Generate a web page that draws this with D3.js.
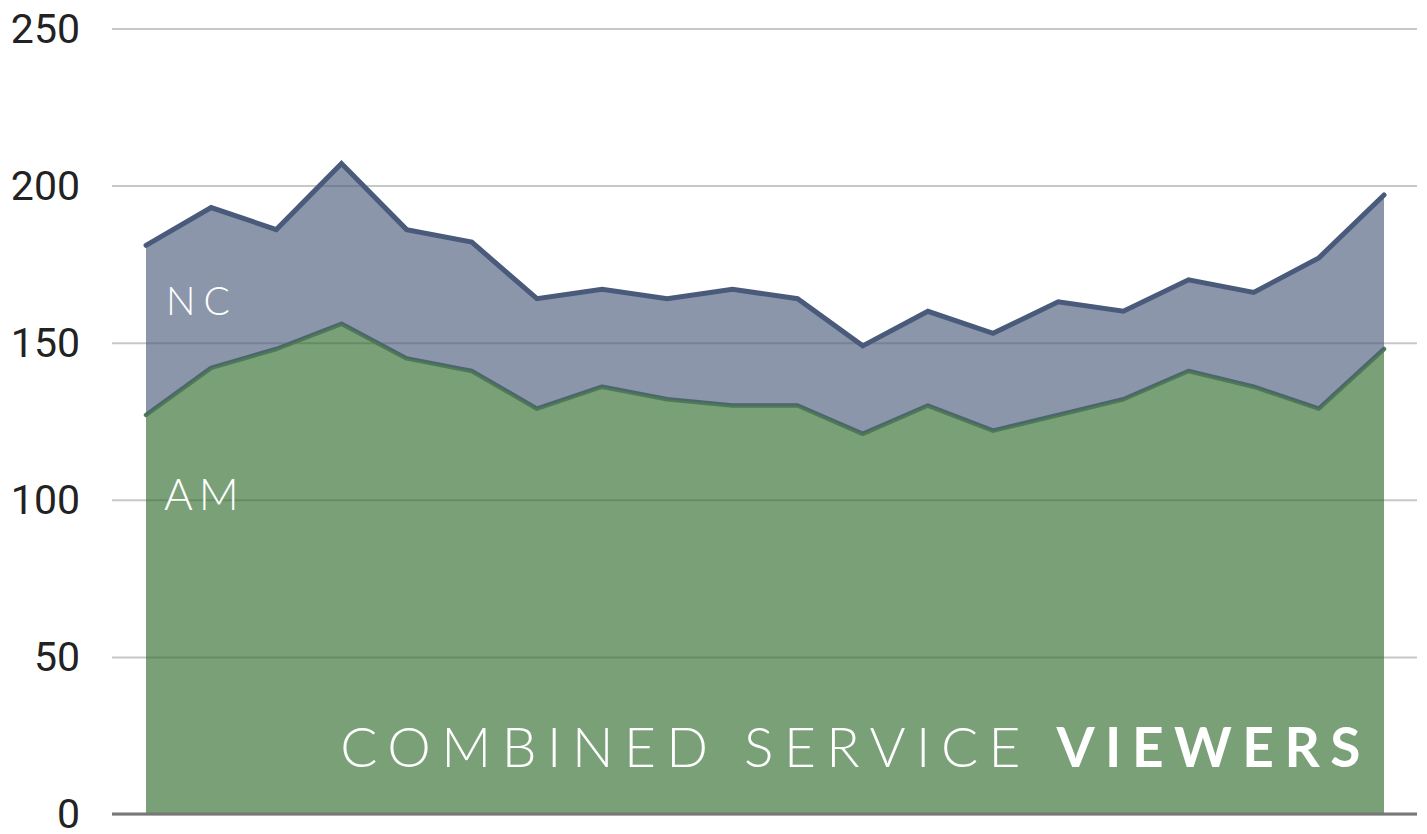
<!DOCTYPE html>
<html>
<head>
<meta charset="utf-8">
<script src="https://cdn.jsdelivr.net/npm/d3@7"></script>
<style>
  html, body { margin: 0; padding: 0; background: #fff; }
  svg { display: block; }
</style>
</head>
<body>
<svg id="chart" width="1427" height="834"></svg>
<script>
const categories = ["1","2","3","4","5","6","7","8","9","10","11","12","13","14","15","16","17","18","19","20"];
const amValues = [127,142,148,156,145,141,129,136,132,130,130,121,130,122,127,132,141,136,129,148];
const ncValues = [54,51,38,51,41,41,35,31,32,37,34,28,30,31,36,28,29,30,48,49];
const yTicks = [0,50,100,150,200,250];
const seriesNames = ["AM","NC"];

const W = 1427, H = 834;
const gridLeft = 112, gridRight = 1417;
const plotLeft = 146, plotRight = 1384;
const yTop = 28.5, yBottom = 814;

const svg = d3.select("#chart");

const x = d3.scalePoint().domain(categories).range([plotLeft, plotRight]);
const y = d3.scaleLinear().domain([0, 250]).range([yBottom, yTop]);

const table = categories.map((c, i) => ({ cat: c, AM: amValues[i], NC: ncValues[i] }));
const stacked = d3.stack().keys(seriesNames)(table);

// gridlines + labels
const yAxis = d3.axisLeft(y).tickValues(yTicks).tickSize(-(gridRight - gridLeft)).tickPadding(32).tickFormat(d3.format("d"));
const gAxis = svg.append("g").attr("transform", `translate(${gridLeft},0)`).call(yAxis);
gAxis.select(".domain").remove();
gAxis.selectAll(".tick line").attr("stroke", "#c8c8c8").attr("stroke-width", 2);
gAxis.selectAll(".tick text")
  .attr("fill", "#222")
  .style("font-family", "Roboto, 'Liberation Sans', sans-serif")
  .style("font-size", "41px")
  .attr("dy", "0.33em");

const colors = { AM: "#2f6a2c", NC: "#4a5a7a" };
const lineColors = { AM: "#4e7a55", NC: "#4a5a7a" };

const area = d3.area()
  .x(d => x(d.data.cat))
  .y0(d => y(d[0]))
  .y1(d => y(d[1]));
const line = d3.line()
  .x(d => x(d.data.cat))
  .y(d => y(d[1]));

const amS = stacked[0], ncS = stacked[1];

svg.append("path").datum(amS).attr("d", area).attr("fill", colors.AM).attr("fill-opacity", 0.64);
svg.append("path").datum(amS).attr("d", line).attr("fill", "none")
  .attr("stroke", lineColors.AM).attr("stroke-width", 4.5).attr("stroke-linejoin", "round").attr("stroke-linecap", "round");
svg.append("path").datum(ncS).attr("d", area).attr("fill", colors.NC).attr("fill-opacity", 0.64);
svg.append("path").datum(ncS).attr("d", line).attr("fill", "none")
  .attr("stroke", lineColors.NC).attr("stroke-width", 5).attr("stroke-linejoin", "miter").attr("stroke-linecap", "round");

// baseline
svg.append("line").attr("x1", gridLeft).attr("x2", gridRight).attr("y1", y(0)).attr("y2", y(0))
  .attr("stroke", "#777").attr("stroke-width", 3);

// series labels
const labelFont = "Lato, 'Open Sans', sans-serif";
svg.append("text").attr("x", 166).attr("y", 315).text("NC")
  .attr("fill", "#fff").style("font-family", labelFont).style("font-weight", 300)
  .style("font-size", "39px").style("letter-spacing", "8px");
svg.append("text").attr("x", 164).attr("y", 510).text("AM")
  .attr("fill", "#fff").style("font-family", labelFont).style("font-weight", 300)
  .style("font-size", "44px").style("letter-spacing", "6px");

// title
const title = svg.append("text").attr("x", 1371).attr("y", 767).attr("text-anchor", "end")
  .attr("fill", "#fff").style("font-family", labelFont).style("font-size", "55px").style("letter-spacing", "10.5px");
title.append("tspan").style("font-weight", 300).text("COMBINED SERVICE ");
title.append("tspan").style("font-weight", 700).text("VIEWERS");
</script>
</body>
</html>
